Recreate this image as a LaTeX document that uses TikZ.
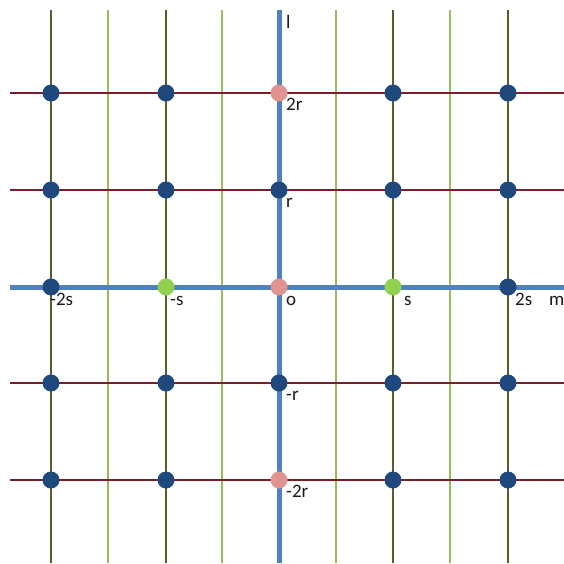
\documentclass[tikz,border=0pt]{standalone}
\usepackage{fontspec}
\setmainfont{Carlito}
\definecolor{axisblue}{HTML}{4F81BD}
\definecolor{olivedark}{HTML}{4F6228}
\definecolor{lightgreen}{HTML}{9BBB59}
\definecolor{maroon}{HTML}{7B1E2B}
\definecolor{navy}{HTML}{1F497D}
\definecolor{pinkdot}{HTML}{E0938F}
\definecolor{greendot}{HTML}{92D050}
\definecolor{txt}{HTML}{1A1A1A}
\begin{document}
\begin{tikzpicture}[x=1pt,y=-1pt,
  oliveline/.style={draw=olivedark,line width=2pt},
  greenline/.style={draw=lightgreen,line width=1.6pt},
  redline/.style={draw=maroon,line width=1.5pt},
  axisline/.style={draw=axisblue,line width=5pt},
  dotbase/.style={circle,inner sep=0pt,minimum size=17pt},
  navydotst/.style={dotbase,fill=navy},
  pinkdotst/.style={dotbase,fill=pinkdot},
  greendotst/.style={dotbase,fill=greendot},
  lbl/.style={anchor=base west,inner sep=0pt,text=txt,font=\fontsize{19}{22}\selectfont}]
\useasboundingbox (0,0) rectangle (564,563);
% light green verticals
\foreach \x [count=\i] in {108,222,336,450}{
  \coordinate (gt\i) at (\x,10); \coordinate (gb\i) at (\x,563);
  \draw[greenline] (gt\i) -- (gb\i);}
% olive verticals
\foreach \x [count=\i] in {51,166,393,508}{
  \coordinate (ot\i) at (\x,10); \coordinate (ob\i) at (\x,563);
  \draw[oliveline] (ot\i) -- (ob\i);}
% maroon horizontals
\foreach \y [count=\i] in {93,190,383,480}{
  \coordinate (hl\i) at (10,\y); \coordinate (hr\i) at (564,\y);
  \draw[redline] (hl\i) -- (hr\i);}
% axes
\coordinate (lt) at (279,10); \coordinate (lb) at (279,563);
\coordinate (ml) at (10,287); \coordinate (mr) at (564,287);
\draw[axisline] (lt) -- (lb);
\draw[axisline] (ml) -- (mr);
% dots
\foreach \x/\c in {51/a,166/b,393/d,508/e}{
  \foreach \y/\r in {93/1,190/2,383/4,480/5}{
    \node[navydotst] (d\c\r) at (\x,\y) {};}}
\node[navydotst] (dc2) at (279,190) {};
\node[navydotst] (dc4) at (279,383) {};
\node[navydotst] (da3) at (51,287) {};
\node[navydotst] (de3) at (508,287) {};
\node[pinkdotst] (dc1) at (279,93) {};
\node[pinkdotst] (dc3) at (279,287) {};
\node[pinkdotst] (dc5) at (279,480) {};
\node[greendotst] (db3) at (166,287) {};
\node[greendotst] (dd3) at (393,287) {};
% labels
\node[lbl] (Ll) at (286,28) {l};
\node[lbl] (Lm) at (549,305) {m};
\node[lbl] (L2r) at (286,110) {2r};
\node[lbl] (Lr) at (286,207) {r};
\node[lbl] (Lo) at (286,305) {o};
\node[lbl] (Lmr) at (286,400) {-r};
\node[lbl] (Lm2r) at (286,497) {-2r};
\node[lbl] (Lm2s) at (50,305) {-2s};
\node[lbl] (Lms) at (170,305) {-s};
\node[lbl] (Ls) at (404,305) {s};
\node[lbl] (L2s) at (515,305) {2s};
\end{tikzpicture}
\end{document}
